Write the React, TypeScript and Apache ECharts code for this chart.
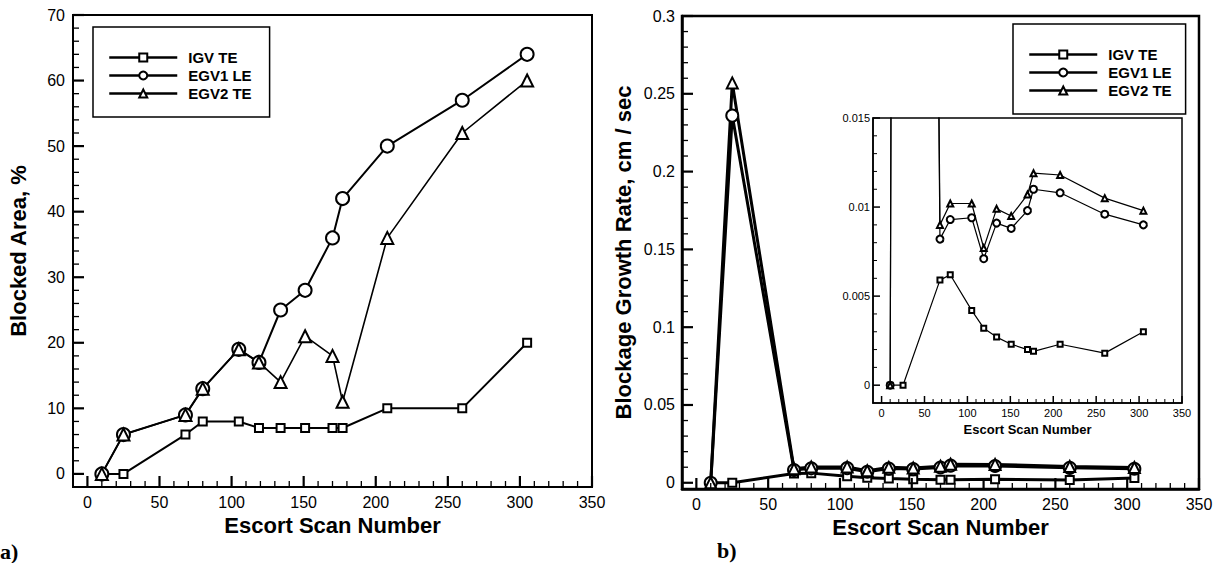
import React, { useEffect, useRef } from "react";
import * as echarts from "echarts";

// ---- data ----
const scanNumbers = [10, 25, 68, 80, 105, 119, 134, 151, 170, 177, 208, 260, 305];
const seriesNames = ["IGV TE", "EGV1 LE", "EGV2 TE"];

const blockedIGV = [0, 0, 6, 8, 8, 7, 7, 7, 7, 7, 10, 10, 20];
const blockedEGV1 = [0, 6, 9, 13, 19, 17, 25, 28, 36, 42, 50, 57, 64];
const blockedEGV2 = [0, 6, 9, 13, 19, 17, 14, 21, 18, 11, 36, 52, 60];

const rateIGV = [0, 0, 0.0059, 0.0062, 0.0042, 0.0032, 0.0027, 0.0023, 0.002, 0.0019, 0.0023, 0.0018, 0.003];
const rateEGV1 = [0, 0.236, 0.0082, 0.0093, 0.0094, 0.0071, 0.0091, 0.0088, 0.0098, 0.011, 0.0108, 0.0096, 0.009];
const rateEGV2 = [0, 0.257, 0.009, 0.0102, 0.0102, 0.0077, 0.0099, 0.0095, 0.0107, 0.0119, 0.0118, 0.0105, 0.0098];

const scanTicks = [0, 50, 100, 150, 200, 250, 300, 350];
const areaTicks = [0, 10, 20, 30, 40, 50, 60, 70];
const rateTicks = [0, 0.05, 0.1, 0.15, 0.2, 0.25, 0.3];
const insetRateTicks = [0, 0.005, 0.01, 0.015];

const FONT = "'Liberation Sans', Arial, sans-serif";

type Panel = { left: number; top: number; width: number; height: number; xMin: number; xMax: number; yMin: number; yMax: number; xMinor: number; yMinor: number };

const leftPanel: Panel = { left: 73, top: 15, width: 519, height: 472, xMin: -10, xMax: 350, yMin: -2, yMax: 70, xMinor: 10, yMinor: 2 };
const rightPanel: Panel = { left: 682, top: 16, width: 517, height: 473, xMin: -10, xMax: 350, yMin: -0.004, yMax: 0.3, xMinor: 10, yMinor: 0.01 };
const insetPanel: Panel = { left: 873, top: 118, width: 309, height: 285, xMin: -10, xMax: 350, yMin: -0.001, yMax: 0.015, xMinor: 10, yMinor: 0.001 };

function steps(max: number, step: number) {
  const out: number[] = [];
  const n = Math.round(max / step);
  for (let i = 0; i <= n; i++) out.push(parseFloat((i * step).toFixed(6)));
  return out;
}

function mainAxis(gridIndex: number, min: number, max: number, ticks: number[], o: any, kind: "x" | "y") {
  return {
    type: "value",
    gridIndex,
    min,
    max,
    position: kind === "x" ? "bottom" : "left",
    axisLine: { show: true, onZero: false, lineStyle: { color: "#000", width: o.lineW } },
    axisTick: { show: false },
    axisLabel: {
      customValues: ticks,
      color: "#000",
      fontFamily: FONT,
      fontSize: o.fontSize,
      margin: o.margin,
      formatter: (v: number) => String(parseFloat(v.toFixed(4))),
    },
    splitLine: { show: false },
    name: o.name || "",
    nameLocation: "middle",
    nameGap: o.nameGap || 0,
    nameTextStyle: { color: "#000", fontFamily: FONT, fontWeight: "bold", fontSize: o.nameSize || 22 },
  };
}

function tickData(p: Panel, xMajor: number[], yMajor: number[]) {
  const isMajor = (v: number, arr: number[]) => arr.some((m) => Math.abs(m - v) < 1e-9);
  const data: number[][] = [];
  steps(p.xMax, p.xMinor).forEach((v) => data.push([v, p.yMin, 0, isMajor(v, xMajor) ? 1 : 0]));
  steps(p.yMax, p.yMinor).forEach((v) => data.push([p.xMin, v, 1, isMajor(v, yMajor) ? 1 : 0]));
  return data;
}

// inward tick marks, placed through the axes' own scales
function tickSeries(axisIndex: number, p: Panel, xMajor: number[], yMajor: number[], majLen: number, minLen: number, majW: number, minW: number) {
  return {
    type: "custom",
    xAxisIndex: axisIndex,
    yAxisIndex: axisIndex,
    coordinateSystem: "cartesian2d",
    clip: false,
    z: 10,
    encode: { x: 0, y: 1 },
    data: tickData(p, xMajor, yMajor),
    renderItem: (_params: any, api: any) => {
      const pt = api.coord([api.value(0), api.value(1)]);
      const vertical = api.value(2) === 1;
      const major = api.value(3) === 1;
      const len = major ? majLen : minLen;
      return {
        type: "line",
        shape: vertical
          ? { x1: pt[0], y1: pt[1], x2: pt[0] + len, y2: pt[1] }
          : { x1: pt[0], y1: pt[1], x2: pt[0], y2: pt[1] - len },
        style: { stroke: "#000", lineWidth: major ? majW : minW },
      };
    },
  };
}

function line(name: string, ys: number[], axisIndex: number, symbol: string, size: number, lw: number, bw: number) {
  return {
    type: "line",
    name,
    xAxisIndex: axisIndex,
    yAxisIndex: axisIndex,
    data: scanNumbers.map((x, i) => [x, ys[i]]),
    symbol,
    symbolSize: size,
    showAllSymbol: true,
    clip: true,
    lineStyle: { color: "#000", width: lw },
    itemStyle: { color: "#000", borderColor: "#000", borderWidth: bw },
    emphasis: { disabled: true },
  };
}

const symbols = ["emptyRect", "emptyCircle", "emptyTriangle"];

export default function App() {
  const ref = useRef<HTMLDivElement>(null);
  useEffect(() => {
    if (!ref.current) return;
    const chart = echarts.init(ref.current, null, { renderer: "svg" });
    const legendBase = {
      orient: "vertical",
      data: seriesNames,
      itemWidth: 68,
      itemHeight: 10,
      itemGap: 3,
      borderColor: "#000",
      borderWidth: 1.5,
      selectedMode: false,
      lineStyle: { width: 2.5 },
      textStyle: { color: "#000", fontFamily: FONT, fontWeight: "bold", fontSize: 15, padding: [0, 0, 0, 6] },
    };
    const g = (p: Panel, bw: number, bg: string) => ({ left: p.left, top: p.top, width: p.width, height: p.height, show: true, borderColor: "#000", borderWidth: bw, backgroundColor: bg });
    chart.setOption({
      animation: false,
      backgroundColor: "#fff",
      grid: [g(leftPanel, 2, "transparent"), g(rightPanel, 2.5, "transparent"), g(insetPanel, 1.5, "#fff")],
      xAxis: [
        mainAxis(0, leftPanel.xMin, leftPanel.xMax, scanTicks, { lineW: 2, fontSize: 16, margin: 7, name: "Escort Scan Number", nameGap: 26 }, "x"),
        mainAxis(1, rightPanel.xMin, rightPanel.xMax, scanTicks, { lineW: 2.5, fontSize: 16, margin: 7, name: "Escort Scan Number", nameGap: 26 }, "x"),
        mainAxis(2, insetPanel.xMin, insetPanel.xMax, scanTicks, { lineW: 1.5, fontSize: 11, margin: 4, name: "Escort Scan Number", nameGap: 17, nameSize: 13 }, "x"),
      ],
      yAxis: [
        mainAxis(0, leftPanel.yMin, leftPanel.yMax, areaTicks, { lineW: 2, fontSize: 16, margin: 8, name: "Blocked Area, %", nameGap: 44 }, "y"),
        mainAxis(1, rightPanel.yMin, rightPanel.yMax, rateTicks, { lineW: 2.5, fontSize: 16, margin: 7, name: "Blockage Growth Rate, cm / sec", nameGap: 48 }, "y"),
        mainAxis(2, insetPanel.yMin, insetPanel.yMax, insetRateTicks, { lineW: 1.5, fontSize: 11, margin: 3 }, "y"),
      ],
      legend: [
        { ...legendBase, left: 93, top: 27, padding: [23, 18, 16, 15] },
        { ...legendBase, left: 1013, top: 24, padding: [23, 14, 16, 15] },
      ],
      series: [
        line(seriesNames[0], blockedIGV, 0, symbols[0], 8, 2, 1.5),
        line(seriesNames[1], blockedEGV1, 0, symbols[1], 13, 2, 1.5),
        line(seriesNames[2], blockedEGV2, 0, symbols[2], 12, 1.6, 1.5),
        line(seriesNames[0], rateIGV, 1, symbols[0], 8, 3, 1.5),
        line(seriesNames[1], rateEGV1, 1, symbols[1], 12, 3, 1.5),
        line(seriesNames[2], rateEGV2, 1, symbols[2], 11, 3, 1.5),
        line(seriesNames[0], rateIGV, 2, symbols[0], 5, 1.2, 1),
        line(seriesNames[1], rateEGV1, 2, symbols[1], 7, 1.2, 1),
        line(seriesNames[2], rateEGV2, 2, symbols[2], 6, 1.2, 1),
        tickSeries(0, leftPanel, scanTicks, areaTicks, 11, 6, 2.2, 1.3),
        tickSeries(1, rightPanel, scanTicks, rateTicks, 11, 6, 2.2, 1.3),
        tickSeries(2, insetPanel, scanTicks, insetRateTicks, 7, 4, 1.5, 1),
      ],
      graphic: [
        { type: "text", left: 0, top: 540, style: { text: "a)", font: "bold 22px 'Liberation Serif', 'Times New Roman', serif", fill: "#000" } },
        { type: "text", left: 717, top: 539, style: { text: "b)", font: "bold 22px 'Liberation Serif', 'Times New Roman', serif", fill: "#000" } },
      ],
    });
    return () => chart.dispose();
  }, []);
  return <div ref={ref} style={{ position: "absolute", left: 0, top: 0, width: 1225, height: 563, background: "#fff" }} />;
}
